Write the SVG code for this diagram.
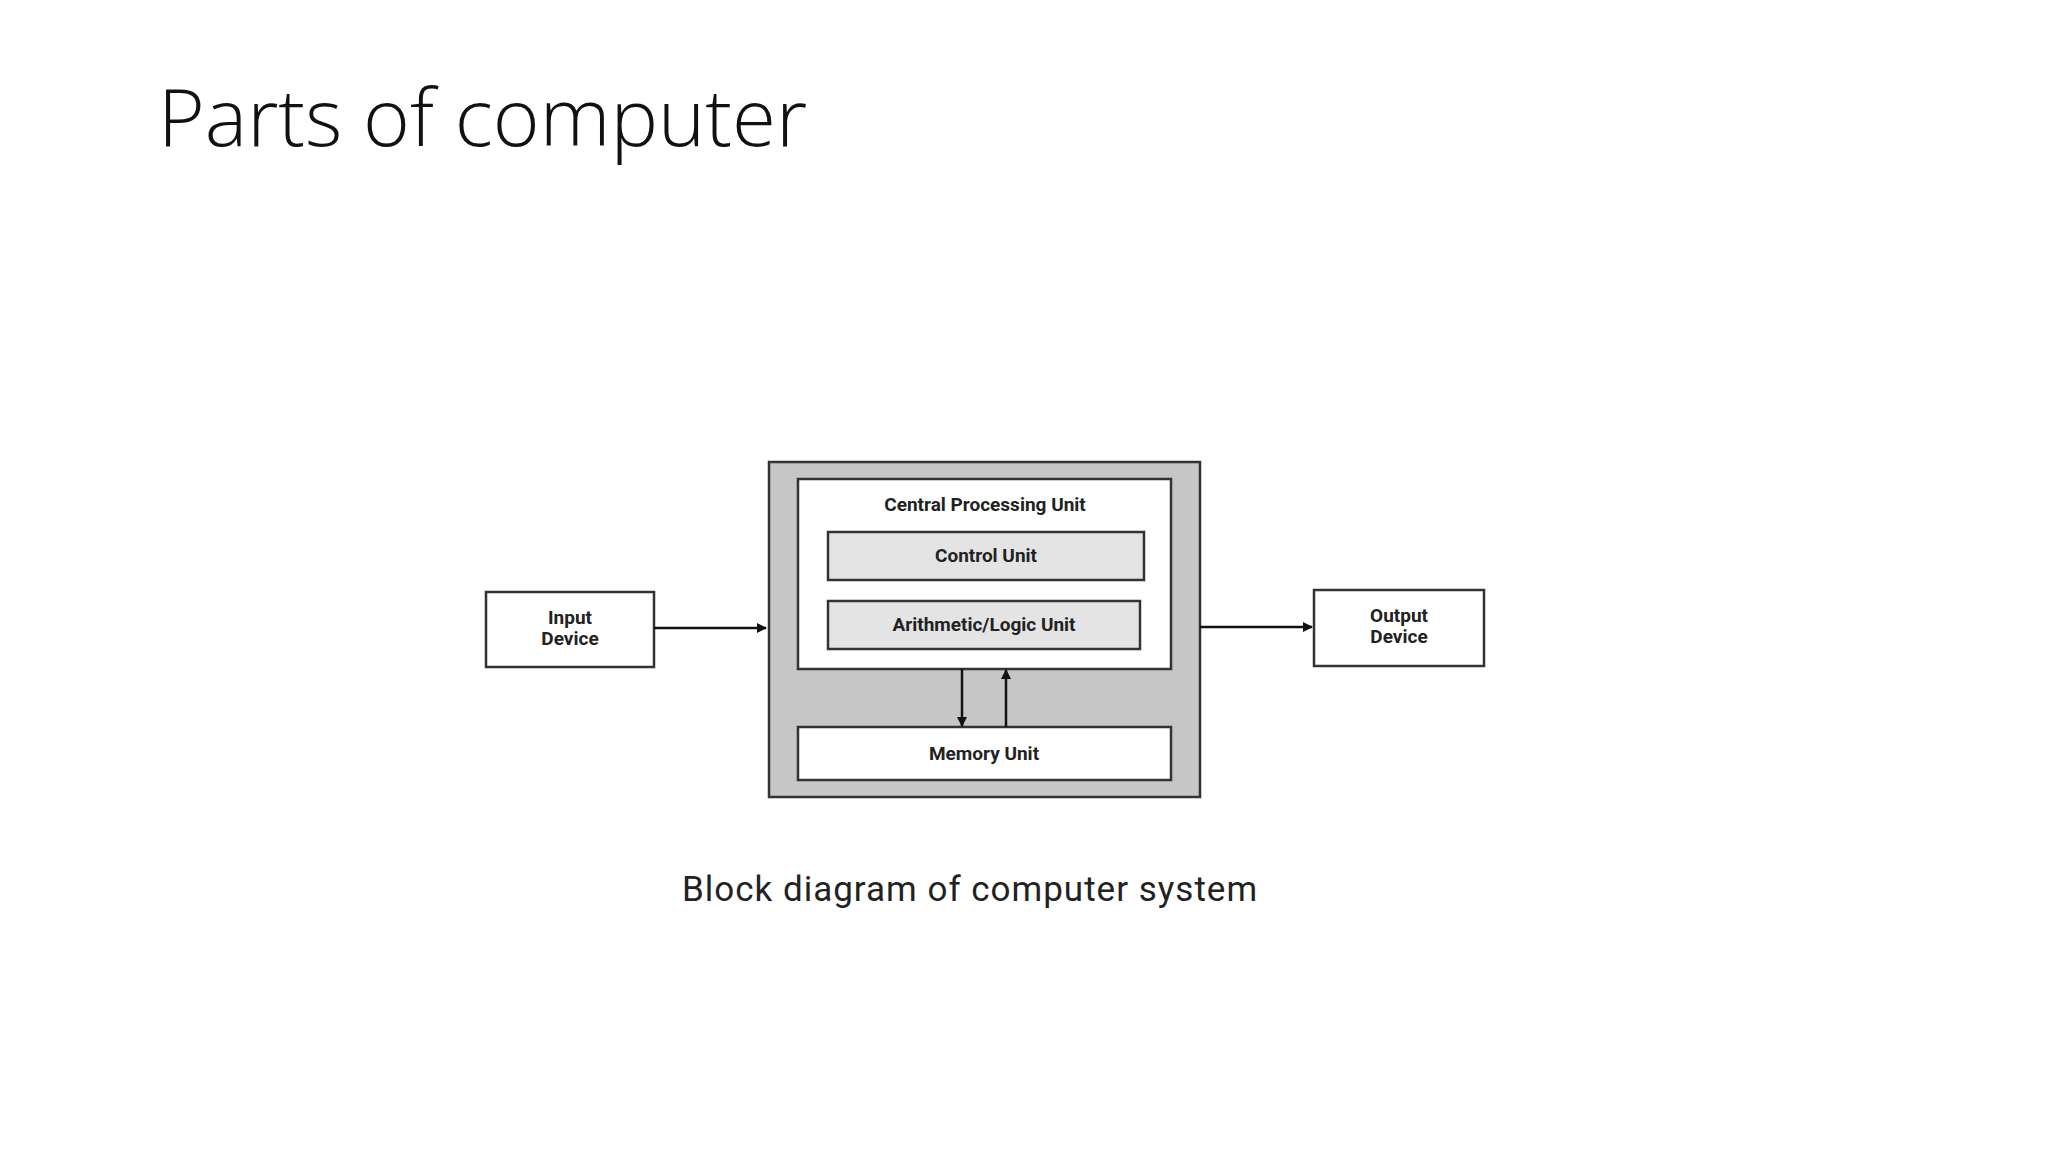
<svg xmlns="http://www.w3.org/2000/svg" width="2048" height="1152" viewBox="0 0 2048 1152">
<style>
.box{stroke:#333;stroke-width:2.5}
.lbl{font-family:Roboto,"Liberation Sans",sans-serif;font-weight:bold;font-size:19px;fill:#222;text-anchor:middle}
.ln{stroke:#111;stroke-width:2.5;fill:none}
</style>
<defs><marker id="ah" markerWidth="10" markerHeight="10" refX="9" refY="5" orient="auto" markerUnits="userSpaceOnUse" viewBox="0 0 10 10"><path d="M0,0 L10,5 L0,10 z" fill="#111"/></marker></defs>
<rect width="2048" height="1152" fill="#fff"/>
<text x="158" y="146" font-family="'Open Sans','Liberation Sans',sans-serif" font-weight="300" font-size="80" fill="#111">Parts of computer</text>
<g id="system"><rect class="box" x="769" y="462" width="431" height="335" fill="#c6c6c6" stroke-width="3"/></g>
<g id="cpu"><rect class="box" x="798" y="479" width="373" height="190" fill="#fff"/>
<text class="lbl" x="985" y="511" font-weight="normal">Central Processing Unit</text></g>
<g id="cu"><rect class="box" x="828" y="532" width="316" height="48" fill="#e4e4e4"/><text class="lbl" x="986" y="562">Control Unit</text></g>
<g id="alu"><rect class="box" x="828" y="601" width="312" height="48" fill="#e4e4e4"/><text class="lbl" x="984" y="631">Arithmetic/Logic Unit</text></g>
<g id="mem"><rect class="box" x="798" y="727" width="373" height="53" fill="#fff"/><text class="lbl" x="984" y="760" font-weight="normal">Memory Unit</text></g>
<g id="input"><rect class="box" x="486" y="592" width="168" height="75" fill="#fff"/><text class="lbl" x="570" y="624" font-weight="normal">Input</text><text class="lbl" x="570" y="645" font-weight="normal">Device</text></g>
<g id="output"><rect class="box" x="1314" y="590" width="170" height="76" fill="#fff" stroke="#666"/><text class="lbl" x="1399" y="622" font-weight="normal" fill="#444">Output</text><text class="lbl" x="1399" y="643" font-weight="normal" fill="#444">Device</text></g>
<g id="connectors">
<line class="ln" x1="654" y1="628" x2="766" y2="628" marker-end="url(#ah)"/>
<line class="ln" x1="1200" y1="627" x2="1312" y2="627" marker-end="url(#ah)"/>
<line class="ln" x1="962" y1="669" x2="962" y2="726" marker-end="url(#ah)"/>
<line class="ln" x1="1006" y1="727" x2="1006" y2="670" marker-end="url(#ah)"/>
</g>
<text x="970" y="901" text-anchor="middle" font-family="Roboto,'Liberation Sans',sans-serif" font-size="35" fill="#222" letter-spacing="1">Block diagram of computer system</text>
</svg>
